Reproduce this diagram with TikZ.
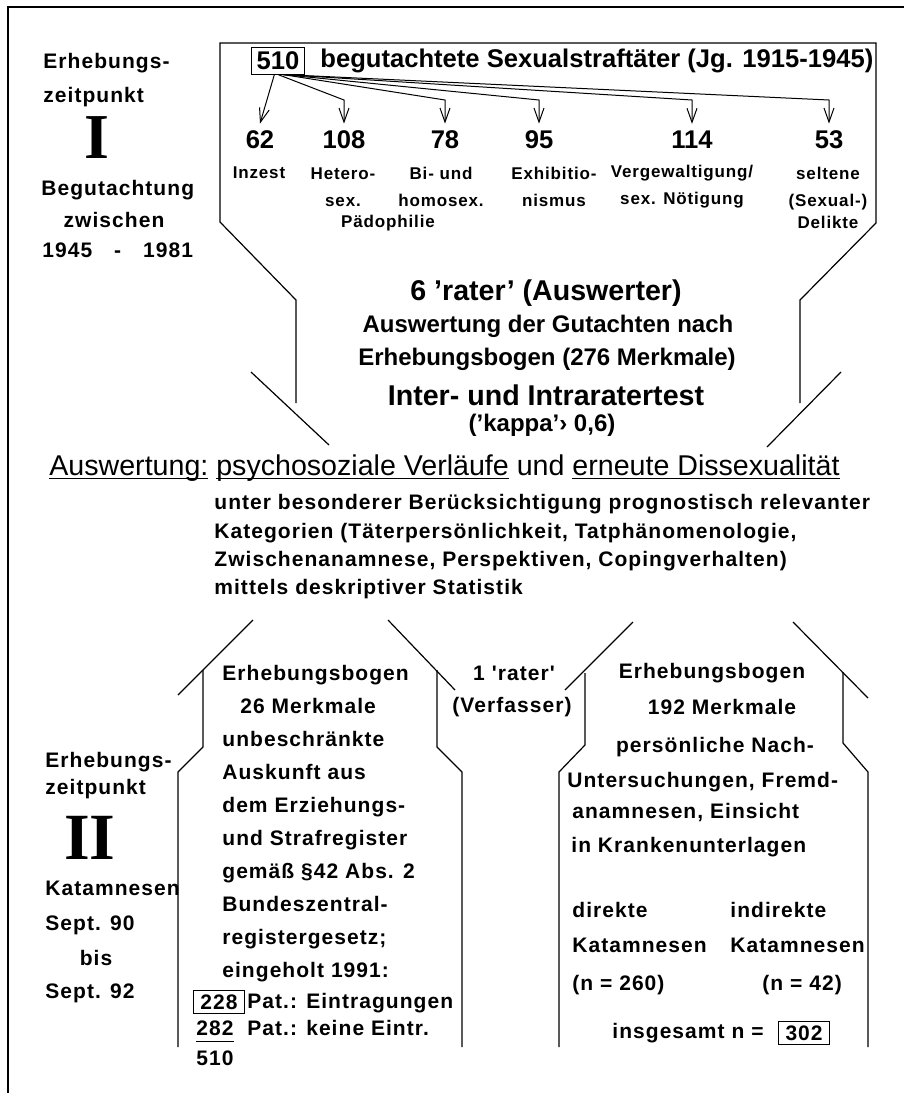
\documentclass[tikz,border=0pt]{standalone}
\usepackage{fontspec}
\setmainfont{Liberation Sans}
\newfontfamily\widefont[LetterSpace=5]{Liberation Sans}
\newfontfamily\romanfont{Liberation Serif}
\usetikzlibrary{arrows.meta, positioning, calc}
\newcommand{\uln}[1]{\underline{\smash{#1}}}

\tikzset{
  thinline/.style={line width=0.6pt},
  arr/.style={line width=0.5pt, -{Straight Barb[length=7pt,width=5pt]}},
  headtext/.style={font=\bfseries\fontsize{12.8}{15}\selectfont, inner sep=0pt},
  numnode/.style={font=\bfseries\fontsize{12.8}{15}\selectfont, inner sep=3.5pt},
  catnode/.style={font=\widefont\bfseries\fontsize{8.5}{13.5}\selectfont, align=center, inner sep=0pt},
  lbltext/.style={font=\widefont\bfseries\fontsize{10.5}{16.5}\selectfont, inner sep=0pt},
  midtext/.style={font=\bfseries\fontsize{12}{15}\selectfont, inner sep=0pt},
  bigtext/.style={font=\bfseries\fontsize{14.3}{17}\selectfont, inner sep=0pt},
  romantext/.style={font=\romanfont\bfseries\fontsize{32}{32}\selectfont, inner sep=0pt},
  boxnode/.style={draw, line width=0.5pt},
}

\begin{document}
\begin{tikzpicture}[x=0.5pt, y=-0.5pt]
  \useasboundingbox (0,0) rectangle (904,1093);
  % page frame
  \draw[thinline] (8,1093) -- (8,7) -- (904,7);

  % Erhebungszeitpunkt I
  \node[lbltext, anchor=west] (erh1) at (43,63) {Erhebungs-};
  \node[lbltext, anchor=west] (zeit1) at (43,97) {zeitpunkt};
  \node[romantext] (roman1) at (97,138) {I};
  \node[lbltext, anchor=west] (begut) at (41,190) {Begutachtung};
  \node[lbltext] (zwisch) at (114,220) {zwischen};
  \node[lbltext, anchor=west] (jahre) at (42,250) {1945\hspace{11pt}-\hspace{11pt}1981};

  % upper block
  \draw[thinline] (296,403) -- (296,300) -- (220,222) -- (220,43) -- (876,43)
    -- (876,223) -- (800,300) -- (800,403);
  \draw[thinline] (251,372) -- (329,445);
  \draw[thinline] (841,372) -- (767,447);

  \node[headtext, boxnode, inner xsep=2.4pt, inner ysep=2pt] (b510) at (278,61) {510};
  \node[headtext, anchor=west] (taeter) at (320,61) {begutachtete Sexualstraftäter (Jg. 1915-1945)};

  \node[numnode] (c62) at (260,140) {62};
  \node[numnode] (c108) at (344,140) {108};
  \node[numnode] (c78) at (445,140) {78};
  \node[numnode] (c95) at (539,140) {95};
  \node[numnode] (c114) at (692,140) {114};
  \node[numnode] (c53) at (829,140) {53};

  \coordinate (kink) at (0,100);
  \draw[arr] (b510.-105) -- (c62.north);
  \draw[arr] (b510.south) -- (c108.north |- kink) -- (c108.north);
  \foreach \c in {78,95,114,53}
    \draw[arr] (b510.-70) -- (c\c.north |- kink) -- (c\c.north);

  \node[catnode] (k62) at (259,173) {Inzest};
  \node[catnode] (k108) at (343,187) {Hetero-\\sex.};
  \node[catnode] (k78) at (441,187) {Bi- und\\homosex.};
  \node[catnode] (kpaed) at (388,223) {Pädophilie};
  \node[catnode] (k95) at (554,187) {Exhibitio-\\nismus};
  \node[catnode] (k114) at (682,187) {Vergewaltigung/\\sex. Nötigung};
  \node[catnode] (k53) at (828,198) {seltene\\(Sexual-)\\[-2.5pt]Delikte};

  % raters
  \node[bigtext] (rater6) at (546,293) {6 'rater' (Auswerter)};
  \node[midtext] (gutacht) at (548,326) {Auswertung der Gutachten nach};
  \node[midtext] (bogen1) at (547,359) {Erhebungsbogen (276 Merkmale)};
  \node[bigtext] (inter) at (546,395) {Inter- und Intraratertest};
  \node[midtext] (kappa) at (542,425) {('kappa'› 0,6)};

  % Auswertung
  \node[font=\fontsize{14.3}{17}\selectfont, anchor=west, inner sep=0pt] (result) at (49,467)
    {\uln{Auswertung:} \uln{psychosoziale Verläufe} und \uln{erneute Dissexualität}};
  \node[lbltext, font=\widefont\bfseries\fontsize{10.5}{14.2}\selectfont, anchor=north west, align=left] (para) at (214,494)
    {unter besonderer Berücksichtigung prognostisch relevanter\\
     Kategorien (Täterpersönlichkeit, Tatphänomenologie,\\
     Zwischenanamnese, Perspektiven, Copingverhalten)\\
     mittels deskriptiver Statistik};

  % Erhebungszeitpunkt II
  \node[lbltext, anchor=west] (erh2) at (45,762) {Erhebungs-};
  \node[lbltext, anchor=west] (zeit2) at (45,789) {zeitpunkt};
  \node[romantext, font=\romanfont\bfseries\fontsize{33}{33}\selectfont] (roman2) at (90,838) {II};
  \node[lbltext, anchor=west] (katam) at (45,888) {Katamnesen};
  \node[lbltext, anchor=west] (sept90) at (45,925) {Sept. 90};
  \node[lbltext] (bis) at (96,958) {bis};
  \node[lbltext, anchor=west] (sept92) at (45,993) {Sept. 92};

  % lower left block
  \draw[thinline] (253,620) -- (178,695);
  \draw[thinline] (388,620) -- (455,690);
  \draw[thinline] (203,670) -- (203,747) -- (178,772) -- (178,1047);
  \draw[thinline] (437,670) -- (437,747) -- (462,772) -- (462,1047);

  \foreach \t [count=\i] in {Erhebungsbogen, \hspace*{9pt}26 Merkmale, unbeschränkte,
      Auskunft aus, dem Erziehungs-, und Strafregister, gemäß §42 Abs. 2,
      Bundeszentral-, registergesetz;, eingeholt 1991:}
    \node[lbltext, anchor=base west] (reg\i) at ({222},{647+33*\i}) {\t};

  \node[lbltext, boxnode, inner xsep=3.5pt, inner ysep=2pt] (n228) at (219,1002) {228};
  \node[lbltext, anchor=west] (p228) at (247,1003) {Pat.: Eintragungen};
  \node[lbltext, anchor=west] (n282) at (196,1028) {282};
  \node[lbltext, anchor=west] (p282) at (247,1028) {Pat.: keine Eintr.};
  \draw[thinline] ([yshift=-3pt]n282.south west) -- ([yshift=-3pt]n282.south east);
  \node[lbltext, anchor=west] (n510) at (196,1058) {510};

  % rater in between
  \node[lbltext] (rater1) at (514,673) {1 'rater'};
  \node[lbltext] (verf) at (512,707) {(Verfasser)};

  % lower right block
  \draw[thinline] (633,622) -- (565,690);
  \draw[thinline] (793,622) -- (868,698);
  \draw[thinline] (585,673) -- (585,745) -- (559,772) -- (559,1047);
  \draw[thinline] (843,672) -- (843,743) -- (868,772) -- (868,1047);

  \node[lbltext] (bogen3) at (712,673) {Erhebungsbogen};
  \node[lbltext] (merk3) at (722,707) {192 Merkmale};
  \node[lbltext] (nach) at (715,747) {persönliche Nach-};
  \node[lbltext, anchor=west] (unters) at (567,782) {Untersuchungen, Fremd-};
  \node[lbltext, anchor=west] (anam) at (572,813) {anamnesen, Einsicht};
  \node[lbltext, anchor=west] (kranken) at (571,847) {in Krankenunterlagen};

  \node[lbltext, anchor=west] (dir) at (572,910) {direkte};
  \node[lbltext, anchor=west] (dirkat) at (572,945) {Katamnesen};
  \node[lbltext, anchor=west] (dirn) at (572,985) {(n = 260)};
  \node[lbltext, anchor=west] (ind) at (730,910) {indirekte};
  \node[lbltext, anchor=west] (indkat) at (730,945) {Katamnesen};
  \node[lbltext, anchor=west] (indn) at (762,985) {(n = 42)};

  \node[lbltext, anchor=west] (gesamt) at (612,1033) {insgesamt n =};
  \node[lbltext, boxnode, inner xsep=3.5pt, inner ysep=2pt, anchor=west] (n302) at (778,1033) {302};
\end{tikzpicture}
\end{document}
